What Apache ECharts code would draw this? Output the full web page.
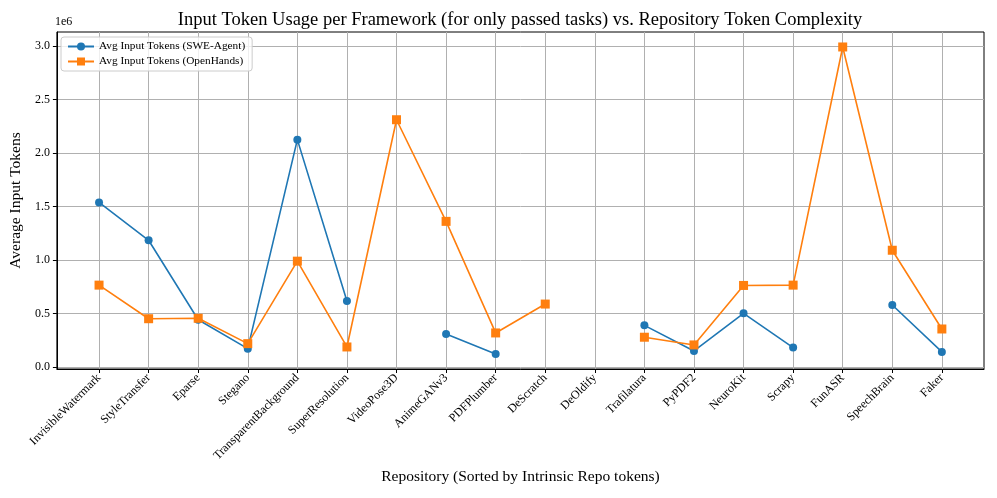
<!DOCTYPE html>
<html><head><meta charset="utf-8">
<script src="https://cdn.jsdelivr.net/npm/echarts@6/dist/echarts.min.js"></script>
<style>html,body{margin:0;padding:0;background:#fff}#c{width:997px;height:498px}</style>
</head><body><div id="c"></div>
<script>
const categories = ["InvisibleWatermark","StyleTransfer","Eparse","Stegano","TransparentBackground","SuperResolution","VideoPose3D","AnimeGANv3","PDFPlumber","DeScratch","DeOldify","Trafilatura","PyPDF2","NeuroKit","Scrapy","FunASR","SpeechBrain","Faker"];
const sweAgent = [1537000,1183000,440000,170000,2124000,615000,null,307000,121000,null,null,388000,149000,500000,180000,null,578000,140000];
const openHands = [764000,450000,454000,217000,988000,186000,2310000,1360000,317000,587000,null,277000,205000,761000,764000,2990000,1090000,354000];
const yTicks = [0,500000,1000000,1500000,2000000,2500000,3000000];

const serif = '"Liberation Serif","DejaVu Serif",serif';
const xIdx = categories.map((_, i) => i);
const toPairs = arr => arr.map((v, i) => [i, v]);

const chart = echarts.init(document.getElementById('c'));
chart.setOption({
  animation: false,
  backgroundColor: '#fff',
  title: {
    text: 'Input Token Usage per Framework (for only passed tasks) vs. Repository Token Complexity',
    left: 515, top: 6, textAlign: 'center',
    textStyle: { fontFamily: serif, fontSize: 18.5, fontWeight: 'normal', color: '#000' }
  },
  legend: {
    left: 61, top: 37, orient: 'vertical', itemGap: 4,
    itemWidth: 26, itemHeight: 10,
    backgroundColor: 'rgba(255,255,255,0.8)', borderColor: '#ccc', borderWidth: 1, borderRadius: 3,
    padding: [4, 7, 4, 6],
    textStyle: { fontFamily: serif, fontSize: 11.3, color: '#000' },
    data: ['Avg Input Tokens (SWE-Agent)', 'Avg Input Tokens (OpenHands)']
  },
  grid: { left: 54, right: 13, top: 32, bottom: 129, show: true, borderColor: '#000', borderWidth: 1, backgroundColor: 'transparent' },
  xAxis: {
    type: 'value', min: -0.85, max: 17.85,
    name: 'Repository (Sorted by Intrinsic Repo tokens)', nameLocation: 'middle', nameGap: 95,
    nameTextStyle: { fontFamily: serif, fontSize: 15.5, color: '#000' },
    axisLine: { show: true, onZero: false, lineStyle: { color: '#000' } },
    axisTick: { show: true, length: 4, lineStyle: { color: '#000' }, customValues: xIdx },
    splitLine: { show: true, lineStyle: { color: '#b0b0b0', width: 1 } },
    axisLabel: {
      customValues: xIdx, rotate: 45, margin: 7,
      fontFamily: serif, fontSize: 12, color: '#000',
      formatter: v => categories[Math.round(v)] ?? ''
    }
  },
  yAxis: {
    type: 'value', min: -20000, max: 3130000,
    name: 'Average Input Tokens', nameLocation: 'middle', nameGap: 30,
    nameTextStyle: { fontFamily: serif, fontSize: 15.5, color: '#000' },
    axisLine: { show: true, onZero: false, lineStyle: { color: '#000' } },
    axisTick: { show: true, length: 4, lineStyle: { color: '#000' }, customValues: yTicks },
    splitLine: { show: true, lineStyle: { color: '#b0b0b0', width: 1 } },
    axisLabel: {
      customValues: yTicks, margin: 7,
      fontFamily: serif, fontSize: 12, color: '#000',
      formatter: v => (v / 1e6).toFixed(1)
    }
  },
  graphic: [{
    type: 'text', left: 55, top: 16,
    style: { text: '1e6', font: '12px ' + serif, fill: '#000' }
  }],
  series: [
    {
      name: 'Avg Input Tokens (SWE-Agent)', type: 'line', data: toPairs(sweAgent),
      connectNulls: false, symbol: 'circle', symbolSize: 8, showAllSymbol: true,
      itemStyle: { color: '#1f77b4' }, lineStyle: { color: '#1f77b4', width: 1.6 }, z: 3
    },
    {
      name: 'Avg Input Tokens (OpenHands)', type: 'line', data: toPairs(openHands),
      connectNulls: false, symbol: 'rect', symbolSize: 9, showAllSymbol: true,
      itemStyle: { color: '#ff7f0e' }, lineStyle: { color: '#ff7f0e', width: 1.6 }, z: 4
    }
  ]
});
</script></body></html>
